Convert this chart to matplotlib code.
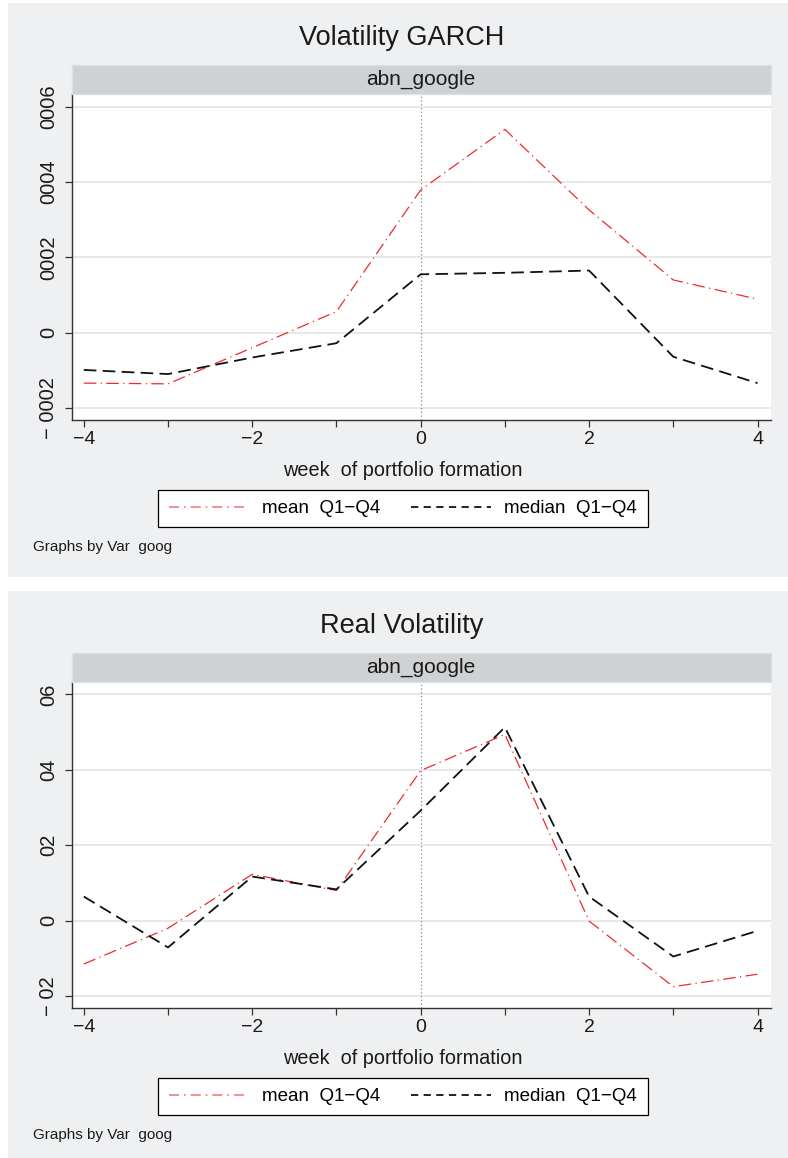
import matplotlib.pyplot as plt
from matplotlib.patches import Rectangle
from matplotlib.lines import Line2D

W, H = 788, 1158
plt.rcParams['font.family'] = ['Liberation Sans', 'DejaVu Sans']

weeks = [-4, -3, -2, -1, 0, 1, 2, 3, 4]

garch_mean = [-0.000134, -0.000136, -0.00004, 0.000056, 0.000379, 0.00054, 0.000326, 0.00014, 0.000089]
garch_median = [-0.000099, -0.00011, -0.000066, -0.000028, 0.000155, 0.000159, 0.000165, -0.000064, -0.000134]

real_mean = [-0.0115, -0.002, 0.0123, 0.008, 0.0398, 0.0494, -0.0001, -0.0175, -0.0142]
real_median = [0.0064, -0.0071, 0.0117, 0.0083, 0.0292, 0.0513, 0.0064, -0.0095, -0.0027]

garch_yticks = [-0.0002, 0, 0.0002, 0.0004, 0.0006]
garch_ylabels = ['\u2212 0002', '0', '0002', '0004', '0006']
real_yticks = [-0.02, 0, 0.02, 0.04, 0.06]
real_ylabels = ['\u2212 02', '0', '02', '04', '06']

panels = [
    ("Volatility GARCH", garch_mean, garch_median, garch_yticks, garch_ylabels, (-0.000232, 0.000634)),
    ("Real Volatility", real_mean, real_median, real_yticks, real_ylabels, (-0.02316, 0.0633)),
]

BG = '#eff0f2'
RED = '#ee2a2f'


def fx(x):
    return x / W


def fy(y):
    return 1 - y / H


fig = plt.figure(figsize=(W / 100, H / 100), dpi=100)
fig.patch.set_facecolor('white')

for i, (title, mean, median, yt, yl, ylim) in enumerate(panels):
    off = 588 * i
    # panel background
    fig.patches.append(Rectangle((fx(8), fy(577 + off)), fx(780), 574 / H,
                                 transform=fig.transFigure, facecolor=BG,
                                 edgecolor='none', zorder=-10))
    fig.text(fx(402), fy(38 + off), title, fontsize=19.5, ha='center', va='center', color='#1a1a1a')

    ax = fig.add_axes([fx(72), fy(420 + off), fx(771 - 72), (420 - 94) / H])
    ax.set_facecolor('white')
    ax.plot(weeks, mean, color=RED, lw=0.9, dashes=(10, 3.5, 1, 3.5), label='mean  Q1\u2212Q4', zorder=3)
    ax.plot(weeks, median, color='#111111', lw=1.3, dashes=(7, 3.5), label='median  Q1\u2212Q4', zorder=3)
    ax.axvline(0, color='#888888', lw=0.9, ls=(0, (1, 2)), zorder=2)

    ax.set_xlim(-4.14, 4.16)
    ax.set_ylim(*ylim)
    ax.set_xticks([-4, -2, 0, 2, 4])
    ax.set_xticklabels(['\u22124', '\u22122', '0', '2', '4'])
    ax.set_xticks([-3, -1, 1, 3], minor=True)
    ax.set_yticks(yt)
    ax.set_yticklabels(yl, rotation=90, va='center')
    ax.tick_params(axis='both', which='both', length=5, width=0.9, color='#333333',
                   labelsize=14, labelcolor='#1a1a1a')
    ax.tick_params(axis='x', pad=3)
    ax.tick_params(axis='y', pad=5, labelsize=14.5)
    ax.grid(axis='y', color='#e6e6e6', lw=1.3, zorder=0)
    ax.set_axisbelow(True)
    for s in ['top', 'right']:
        ax.spines[s].set_visible(False)
    for s in ['left', 'bottom']:
        ax.spines[s].set_color('#333333')
        ax.spines[s].set_linewidth(1.0)

    # strip
    fig.patches.append(Rectangle((fx(72), fy(94 + off)), fx(771 - 72), 29 / H,
                                 transform=fig.transFigure, facecolor='#cfd1d3',
                                 edgecolor='#d8e2e8', lw=1, zorder=5))
    fig.text(fx(421), fy(79 + off), 'abn_google', fontsize=15, ha='center', va='center',
             color='#1a1a1a', zorder=6)

    fig.text(fx(403), fy(470 + off), 'week  of portfolio formation', fontsize=14.3,
             ha='center', va='center', color='#1a1a1a')

    handles = [Line2D([], [], color='#f07f82', lw=1.2, dashes=(6, 3, 1, 3)),
               Line2D([], [], color='#111111', lw=1.3, dashes=(4, 3))]
    leg = fig.legend(handles, ['mean  Q1\u2212Q4', 'median  Q1\u2212Q4'], ncol=2,
                     loc='center', bbox_to_anchor=(fx(403), fy(508.5 + off)),
                     fontsize=13.5, frameon=True, fancybox=False, edgecolor='black',
                     framealpha=1, handlelength=4.3, handletextpad=0.7,
                     columnspacing=1.6, borderpad=0.55)
    leg.get_frame().set_linewidth(0.9)

    fig.text(fx(33), fy(547 + off), 'Graphs by Var  goog', fontsize=11, ha='left',
             va='center', color='#1a1a1a')

fig.savefig('out.png', dpi=100, facecolor='white')
